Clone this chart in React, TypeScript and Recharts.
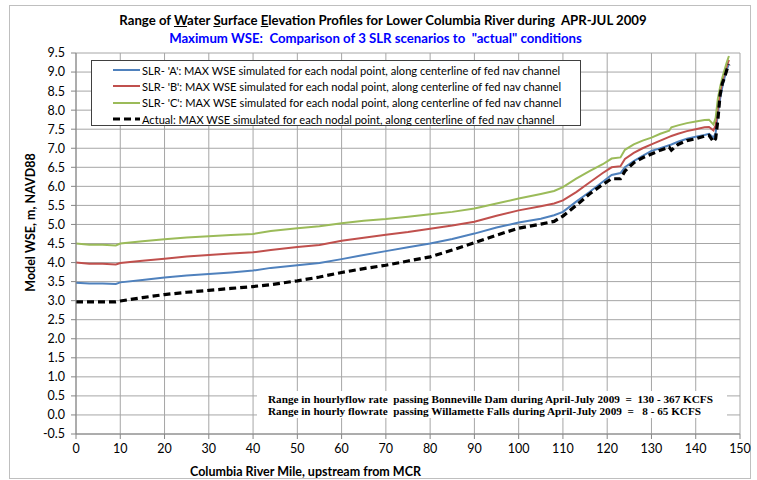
import React from "react";
import { LineChart, Line, XAxis, YAxis, CartesianGrid } from "recharts";

// river miles (x) shared by every series
const miles = [
  0, 3, 6, 9, 10, 15, 20, 25, 30, 35, 40, 44, 50, 55, 60, 65, 70, 75, 80, 85,
  90, 95, 100, 105, 108, 110, 113, 116, 119, 121, 123, 124, 126, 128, 130, 132,
  134, 134.5, 136, 138, 140, 142, 143, 144, 144.5, 145, 145.5, 146, 146.5, 147,
  147.5,
];

const slrA = [
  3.47, 3.45, 3.45, 3.44, 3.48, 3.54, 3.61, 3.66, 3.7, 3.74, 3.79, 3.86, 3.93,
  3.99, 4.09, 4.2, 4.3, 4.4, 4.5, 4.62, 4.76, 4.92, 5.05, 5.15, 5.24, 5.33, 5.6,
  5.85, 6.12, 6.3, 6.35, 6.5, 6.66, 6.8, 6.93, 7.0, 7.08, 7.1, 7.17, 7.25, 7.3,
  7.35, 7.38, 7.28, 7.4, 7.9, 8.3, 8.6, 8.85, 9.05, 9.22,
];

const slrB = [
  4.0, 3.97, 3.97, 3.95, 3.99, 4.05, 4.1, 4.16, 4.2, 4.24, 4.27, 4.33, 4.41,
  4.46, 4.57, 4.65, 4.73, 4.8, 4.89, 4.97, 5.07, 5.23, 5.37, 5.48, 5.55, 5.63,
  5.85, 6.1, 6.35, 6.5, 6.53, 6.72, 6.88, 7.0, 7.1, 7.2, 7.3, 7.32, 7.38, 7.45,
  7.5, 7.55, 7.56, 7.47, 7.6, 8.05, 8.45, 8.75, 8.98, 9.15, 9.32,
];

const slrC = [
  4.5, 4.47, 4.47, 4.45, 4.5, 4.56, 4.61, 4.66, 4.69, 4.72, 4.75, 4.83, 4.9,
  4.95, 5.03, 5.1, 5.14, 5.2, 5.27, 5.33, 5.42, 5.55, 5.68, 5.8, 5.88, 5.98,
  6.2, 6.4, 6.58, 6.73, 6.76, 6.96, 7.1, 7.2, 7.28, 7.38, 7.46, 7.55, 7.6, 7.66,
  7.7, 7.74, 7.75, 7.62, 7.8, 8.3, 8.6, 8.85, 9.05, 9.25, 9.42,
];

const actual = [
  2.97, 2.97, 2.97, 2.97, 2.99, 3.08, 3.16, 3.22, 3.27, 3.32, 3.37, 3.42, 3.52,
  3.62, 3.74, 3.84, 3.93, 4.04, 4.15, 4.33, 4.52, 4.72, 4.9, 5.01, 5.08, 5.22,
  5.5, 5.8, 6.05, 6.2, 6.2, 6.4, 6.62, 6.75, 6.85, 6.95, 7.03, 6.95, 7.1, 7.2,
  7.25, 7.32, 7.34, 7.17, 7.25, 7.75, 8.4, 8.7, 8.85, 9.05, 9.2,
];

const xTicks = [0, 10, 20, 30, 40, 50, 60, 70, 80, 90, 100, 110, 120, 130, 140, 150];
const yTicks = [
  -0.5, 0, 0.5, 1, 1.5, 2, 2.5, 3, 3.5, 4, 4.5, 5, 5.5, 6, 6.5, 7, 7.5, 8, 8.5,
  9, 9.5,
];

const legendText = ": MAX WSE simulated for each nodal point, along centerline of fed nav channel";

const series = [
  { key: "A", name: "SLR- 'A'", color: "#4f81bd", dash: undefined, width: 2 },
  { key: "B", name: "SLR- 'B'", color: "#c0504d", dash: undefined, width: 2 },
  { key: "C", name: "SLR- 'C'", color: "#9bbb59", dash: undefined, width: 2 },
  { key: "act", name: "Actual", color: "#000000", dash: "7 4", width: 3.2 },
];

const data = miles.map((m, i) => ({
  mile: m,
  A: slrA[i],
  B: slrB[i],
  C: slrC[i],
  act: actual[i],
}));

const sans = "Lato, 'Open Sans', sans-serif";

function LegendBox() {
  return (
    <div
      style={{
        position: "absolute",
        left: 91,
        top: 60,
        width: 490,
        height: 66,
        boxSizing: "border-box",
        background: "#fff",
        border: "1px solid #404040",
        padding: "1px 0 0 0",
        fontFamily: sans,
        fontSize: 11.1,
        color: "#000",
      }}
    >
      {series.map((s) => (
        <div
          key={s.key}
          style={{ display: "flex", alignItems: "center", height: 16.3, paddingLeft: 21 }}
        >
          <svg width={27} height={6} style={{ marginRight: 2 }}>
            <line
              x1={0}
              y1={3}
              x2={27}
              y2={3}
              stroke={s.color}
              strokeWidth={s.width}
              strokeDasharray={s.dash}
            />
          </svg>
          <span style={{ whiteSpace: "nowrap" }}>
            {s.name}
            {legendText}
          </span>
        </div>
      ))}
    </div>
  );
}

export default function App() {
  return (
    <div
      style={{
        position: "absolute",
        left: 0,
        top: 0,
        width: 757,
        height: 480,
        background: "#fff",
        overflow: "hidden",
      }}
    >
      <div
        style={{
          position: "absolute",
          left: 9,
          top: 5,
          width: 740,
          height: 472,
          border: "1px solid #bfbfbf",
        }}
      />
      <div
        style={{
          position: "absolute",
          left: 0,
          width: 766,
          top: 12,
          textAlign: "center",
          fontFamily: sans,
          fontWeight: 700,
          fontSize: 13.2,
          color: "#000",
          whiteSpace: "nowrap",
        }}
      >
        Range of <u>W</u>ater <u>S</u>urface <u>E</u>levation Profiles for Lower
        Columbia River during&nbsp; APR-JUL 2009
      </div>
      <div
        style={{
          position: "absolute",
          left: 0,
          width: 751,
          top: 30,
          textAlign: "center",
          fontFamily: sans,
          fontWeight: 700,
          fontSize: 13.2,
          color: "#0000ff",
          whiteSpace: "nowrap",
        }}
      >
        Maximum WSE:&nbsp; Comparison of 3 SLR scenarios to&nbsp; "actual" conditions
      </div>

      <LineChart
        width={757}
        height={480}
        data={data}
        margin={{ top: 53, right: 17, bottom: 0, left: 0 }}
        style={{ position: "absolute", left: 0, top: 0 }}
      >
        <CartesianGrid stroke="#a6a6a6" strokeWidth={1} />
        <XAxis
          dataKey="mile"
          type="number"
          domain={[0, 150]}
          ticks={xTicks}
          interval={0}
          height={46}
          tickSize={5}
          tickMargin={5}
          stroke="#868686"
          tick={{ fill: "#000", fontSize: 12.5, fontFamily: sans }}
        />
        <YAxis
          type="number"
          domain={[-0.5, 9.5]}
          ticks={yTicks}
          interval={0}
          width={76}
          tickSize={5}
          tickMargin={6}
          stroke="#868686"
          tickFormatter={(v: number) => v.toFixed(1)}
          tick={{ fill: "#000", fontSize: 12.5, fontFamily: sans }}
        />
        {series.map((s) => (
          <Line
            key={s.key}
            type="linear"
            dataKey={s.key}
            name={s.name}
            stroke={s.color}
            strokeWidth={s.width}
            strokeDasharray={s.dash}
            dot={false}
            isAnimationActive={false}
          />
        ))}
      </LineChart>

      <LegendBox />

      <div
        style={{
          position: "absolute",
          left: 257,
          top: 391,
          width: 470,
          height: 27,
          background: "#fff",
          fontFamily: "'Liberation Serif', 'Times New Roman', serif",
          fontWeight: 700,
          fontSize: 11.2,
          lineHeight: "11.5px",
          paddingTop: 3,
          paddingLeft: 11,
          boxSizing: "border-box",
          whiteSpace: "pre",
        }}
      >
        <div>Range in hourlyflow rate  passing Bonneville Dam during April-July 2009  =  130 - 367 KCFS</div>
        <div>Range in hourly flowrate  passing Willamette Falls during April-July 2009  =   8 - 65 KCFS</div>
      </div>

      <div
        style={{
          position: "absolute",
          left: 190,
          width: 200,
          top: 464,
          textAlign: "center",
          fontFamily: sans,
          fontWeight: 700,
          fontSize: 12.5,
          whiteSpace: "nowrap",
        }}
      >
        Columbia River Mile, upstream from MCR
      </div>
      <div
        style={{
          position: "absolute",
          left: 30,
          top: 223,
          width: 0,
          height: 0,
        }}
      >
        <div
          style={{
            position: "absolute",
            left: -100,
            top: -8,
            width: 200,
            textAlign: "center",
            transform: "rotate(-90deg)",
            fontFamily: sans,
            fontWeight: 700,
            fontSize: 12.5,
            whiteSpace: "nowrap",
          }}
        >
          Model WSE, m, NAVD88
        </div>
      </div>
    </div>
  );
}
